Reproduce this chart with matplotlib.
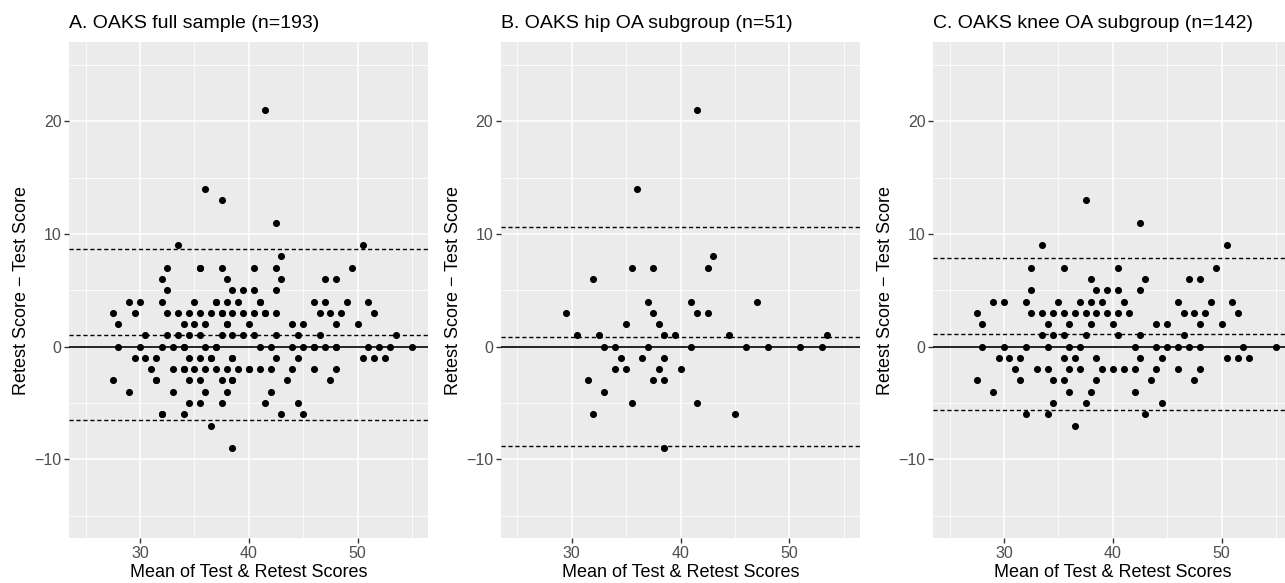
import matplotlib.pyplot as plt
import numpy as np

plt.rcParams['font.family'] = ['Liberation Sans', 'DejaVu Sans']

# hip OA subgroup (panel B)
hip_mean = [29.5, 30.5, 31.5, 32, 32, 32.5, 33, 33, 34, 34, 34.5, 35, 35, 35.5, 35.5,
            36, 36.5, 37, 37, 37.5, 37.5, 37.5, 38, 38, 38.5, 38.5, 38.5, 38.5, 39.5, 40,
            41, 41, 41.5, 41.5, 41.5, 42.5, 42.5, 43, 44.5, 45, 46, 47, 48, 51, 53, 53.5]
hip_diff = [3, 1, -3, 6, -6, 1, 0, -4, 0, -2, -1, 2, -2, 7, -5,
            14, -1, 4, 0, 7, 3, -3, 2, -2, 1, -1, -3, -9, 1, -2,
            4, 0, 21, 3, -5, 7, 3, 8, 1, -6, 0, 4, 0, 0, 0, 1]

# knee OA subgroup (panel C), one line per difference value
knee_mean = [37.5,
             42.5,
             33.5, 50.5,
             32.5, 35.5, 40.5, 49.5,
             38, 43, 47, 48,
             32.5, 38.5, 39.5, 40.5, 42.5,
             29, 30, 32, 35, 37, 38, 39, 41, 46, 49, 51,
             27.5, 32.5, 33.5, 34.5, 35.5, 36.5, 37.5, 38.5, 39.5, 40.5, 41.5, 46.5, 47.5, 48.5, 51.5,
             28, 34, 36, 38, 40, 44, 45, 48, 50,
             33.5, 34.5, 35.5, 37.5, 40.5, 42.5, 46.5,
             28, 30, 32, 34, 36, 37, 42, 44, 45, 46, 47, 48, 52, 55,
             29.5, 30.5, 31.5, 35.5, 36.5, 38.5, 42.5, 44.5, 50.5, 51.5, 52.5,
             31, 33, 34, 36, 37, 39, 40, 41, 42, 44, 46, 48,
             27.5, 31.5, 34.5, 35.5, 38.5, 43.5, 47.5,
             29, 36, 38, 42,
             34.5, 37.5, 44.5,
             32, 34, 43,
             36.5]
knee_diff = ([13] + [11] + [9] * 2 + [7] * 4 + [6] * 4 + [5] * 5 + [4] * 11 + [3] * 15
             + [2] * 9 + [1] * 7 + [0] * 14 + [-1] * 11 + [-2] * 12 + [-3] * 7
             + [-4] * 4 + [-5] * 3 + [-6] * 3 + [-7])

titles = ['A. OAKS full sample (n=193)', 'B. OAKS hip OA subgroup (n=51)',
          'C. OAKS knee OA subgroup (n=142)']
bias = [1.06, 0.9, 1.12]
loa_upper = [8.69, 10.64, 7.83]
loa_lower = [-6.53, -8.81, -5.59]

panels = [(hip_mean + knee_mean, hip_diff + knee_diff),
          (hip_mean, hip_diff),
          (knee_mean, knee_diff)]

fig = plt.figure(figsize=(12.85, 5.83), dpi=100)
lefts = [69.3, 501, 933.3]

for i, (xs, ys) in enumerate(panels):
    ax = fig.add_axes([lefts[i] / 1285, 44.7 / 583, 359 / 1285, 496 / 583])
    ax.set_facecolor('#EBEBEB')
    ax.set_xlim(23.5, 56.5)
    ax.set_ylim(-17, 27)
    ax.set_xticks([30, 40, 50])
    ax.set_yticks([-10, 0, 10, 20])
    ax.set_xticks([25, 35, 45, 55], minor=True)
    ax.set_yticks([-15, -5, 5, 15, 25], minor=True)
    ax.grid(which='major', color='white', lw=1.1)
    ax.grid(which='minor', color='white', lw=0.55)
    ax.set_axisbelow(True)
    ax.tick_params(which='minor', length=0)
    ax.tick_params(which='major', length=3.5, width=1, color='#333333',
                   labelcolor='#4D4D4D', labelsize=11.5, pad=2)
    for s in ax.spines.values():
        s.set_visible(False)

    ax.axhline(0, color='black', lw=1.2, zorder=2)
    for v in (bias[i], loa_upper[i], loa_lower[i]):
        ax.axhline(v, color='black', lw=1, ls=(0, (3, 2)), zorder=2)
    ax.scatter(xs, ys, s=26, color='black', linewidths=0, zorder=3)

    ax.set_xlabel('Mean of Test & Retest Scores', fontsize=13, labelpad=2)
    ax.set_ylabel('Retest Score \u2212 Test Score', fontsize=13, labelpad=3)
    ax.set_title(titles[i], loc='left', fontsize=14, pad=10)

fig.savefig('out.png', dpi=100)
